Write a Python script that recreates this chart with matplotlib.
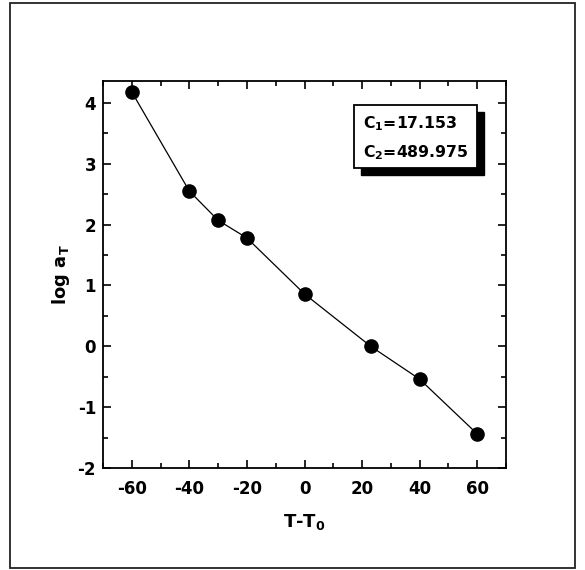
import numpy as np
import matplotlib.pyplot as plt
from matplotlib.patches import Rectangle
from matplotlib.ticker import MultipleLocator

# shift factor data
t_shift = [-60, -40, -30, -20, 0, 23, 40, 60]
log_aT = [4.18, 2.55, 2.07, 1.78, 0.86, 0.0, -0.54, -1.44]
x_ticks = [-60, -40, -20, 0, 20, 40, 60]
y_ticks = [-2, -1, 0, 1, 2, 3, 4]
fit_lines = ["C$_1$=17.153", "C$_2$=489.975"]

plt.rcParams['font.family'] = ['DejaVu Sans']
plt.rcParams['font.weight'] = 'bold'
plt.rcParams['font.size'] = 12
plt.rcParams['mathtext.default'] = 'regular'
plt.rcParams['axes.unicode_minus'] = False

fig = plt.figure(figsize=(5.85, 5.70), dpi=100)
ax = fig.add_axes([103 / 585, 102 / 570, 403 / 585, 387 / 570])

# outer frame
fig.patches.append(Rectangle((10 / 585, 2 / 570), 565 / 585, 565 / 570,
                             transform=fig.transFigure, fill=False,
                             edgecolor='#222222', linewidth=1.3))

ax.plot(t_shift, log_aT, '-', color='black', linewidth=0.9, zorder=2)
ax.plot(t_shift, log_aT, 'o', color='black', markersize=9.5, zorder=3)

ax.set_xlim(-70, 70)
ax.set_ylim(-2, 4.36)
ax.set_xticks(x_ticks)
ax.set_yticks(y_ticks)
ax.xaxis.set_minor_locator(MultipleLocator(10))
ax.yaxis.set_minor_locator(MultipleLocator(0.5))
ax.tick_params(which='both', direction='in', top=True, right=True,
               width=1.2, labelsize=12)
ax.tick_params(which='major', length=6)
ax.tick_params(which='minor', length=3.5)
ax.tick_params(axis='x', pad=9)
ax.tick_params(axis='y', pad=5)
for s in ax.spines.values():
    s.set_linewidth(1.3)

ax.set_xlabel("T-T$_0$", fontsize=13, fontweight='bold', labelpad=10)
ax.set_ylabel("log a$_T$", fontsize=13, fontweight='bold', labelpad=4)

# parameter box with drop shadow
bx, by, bw, bh = 0.623, 0.776, 0.305, 0.162
ax.add_patch(Rectangle((bx + 0.018, by - 0.018), bw, bh, transform=ax.transAxes,
                       facecolor='black', edgecolor='black', zorder=4))
ax.add_patch(Rectangle((bx, by), bw, bh, transform=ax.transAxes,
                       facecolor='white', edgecolor='black', linewidth=1.3, zorder=5))
ax.text(bx + 0.021, 0.879, fit_lines[0], transform=ax.transAxes,
        fontsize=11.3, fontweight='bold', va='baseline', zorder=6)
ax.text(bx + 0.021, 0.804, fit_lines[1], transform=ax.transAxes,
        fontsize=11.3, fontweight='bold', va='baseline', zorder=6)

fig.savefig("out.png", dpi=100)
